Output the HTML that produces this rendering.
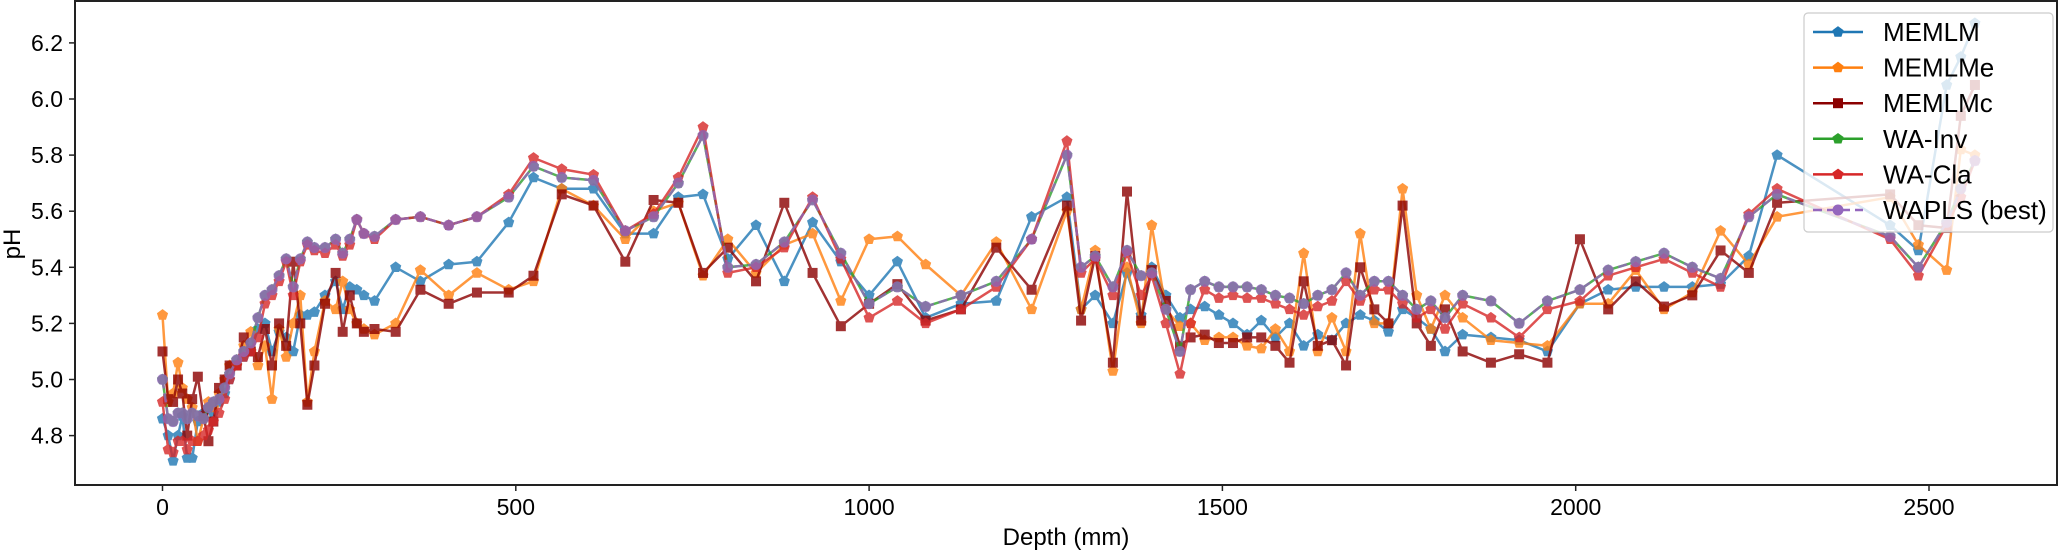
<!DOCTYPE html>
<html><head><meta charset="utf-8"><style>
html,body{margin:0;padding:0;background:#fff;}
svg{display:block;font-family:"Liberation Sans",sans-serif;}
</style></head><body>
<svg id="chart" width="2067" height="550" viewBox="0 0 2067 550" xmlns="http://www.w3.org/2000/svg">
<rect x="0" y="0" width="2067" height="550" fill="#fff"/>
<g id="series"></g>
<rect x="75" y="1" width="1982" height="484" fill="none" stroke="#222" stroke-width="2"/>
<g id="axes"></g>
<text x="1066" y="545" font-size="24" text-anchor="middle">Depth (mm)</text>
<text x="0" y="0" font-size="24" text-anchor="middle" transform="translate(20,244) rotate(-90)">pH</text>
<g id="legend"></g>
</svg>
<script>
const depths = [0,8,15,22,28,35,42,50,58,65,72,80,88,95,
105,115,125,135,145,155,165,175,185,195,205,215,230,245,255,265,275,285,300,
330,365,405,445,490,525,565,610,655,695,730,765,
800,840,880,920,960,1000,1040,1080,1130,1180,1230,1280,
1300,1320,1345,1365,1385,1400,1420,1440,1455,1475,1495,
1515,1535,1555,1575,1595,1615,1635,1655,1675,1695,1715,1735,1755,1775,1795,1815,1840,1880,1920,1960,
2006,2046,2085,2125,2165,2205,2245,2285,2445,2485,2525,2545,2565];
const memlm = [4.86,4.8,4.71,4.8,4.87,4.72,4.72,4.85,4.88,4.9,4.88,4.92,4.95,5.0,
5.05,5.08,5.1,5.18,5.2,5.1,5.17,5.15,5.1,5.23,5.23,5.24,5.3,5.35,5.25,5.33,5.32,5.3,5.28,
5.4,5.35,5.41,5.42,5.56,5.72,5.68,5.68,5.52,5.52,5.65,5.66,
5.43,5.55,5.35,5.56,5.42,5.3,5.42,5.22,5.27,5.28,5.58,5.65,
5.25,5.3,5.2,5.38,5.23,5.4,5.3,5.22,5.25,5.26,5.23,
5.2,5.16,5.21,5.15,5.2,5.12,5.16,5.14,5.2,5.23,5.21,5.17,5.25,5.22,5.18,5.1,5.16,5.15,5.14,5.1,
5.27,5.32,5.33,5.33,5.33,5.34,5.44,5.80,5.55,5.46,6.05,6.15,6.27];
const memlme = [5.23,4.92,4.95,5.06,4.97,4.93,4.9,4.78,4.86,4.92,4.9,4.95,5.0,5.05,
5.05,5.12,5.17,5.05,5.12,4.93,5.18,5.08,5.2,5.3,4.92,5.1,5.28,5.25,5.35,5.25,5.2,5.18,5.16,
5.2,5.39,5.3,5.38,5.32,5.35,5.68,5.62,5.5,5.6,5.63,5.37,
5.5,5.38,5.48,5.52,5.28,5.5,5.51,5.41,5.3,5.49,5.25,5.6,
5.25,5.46,5.03,5.4,5.2,5.55,5.25,5.19,5.2,5.14,5.15,
5.15,5.12,5.11,5.18,5.1,5.45,5.1,5.22,5.1,5.52,5.2,5.2,5.68,5.3,5.18,5.3,5.22,5.14,5.13,5.12,
5.27,5.27,5.39,5.25,5.31,5.53,5.41,5.58,5.65,5.48,5.39,5.82,5.8];
const memlmc = [5.1,4.93,4.92,5.0,4.95,4.8,4.93,5.01,4.87,4.78,4.85,4.97,5.0,5.05,
5.05,5.15,5.1,5.08,5.18,5.05,5.2,5.12,5.42,5.2,4.91,5.05,5.27,5.38,5.17,5.3,5.2,5.17,5.18,
5.17,5.32,5.27,5.31,5.31,5.37,5.66,5.62,5.42,5.64,5.63,5.38,
5.47,5.35,5.63,5.38,5.19,5.27,5.34,5.21,5.25,5.47,5.32,5.62,
5.21,5.44,5.06,5.67,5.21,5.39,5.28,5.12,5.15,5.16,5.13,
5.13,5.15,5.15,5.12,5.06,5.35,5.12,5.14,5.05,5.4,5.25,5.2,5.62,5.2,5.12,5.25,5.1,5.06,5.09,5.06,
5.5,5.25,5.35,5.26,5.3,5.46,5.38,5.63,5.66,5.55,5.54,5.94,6.05];
const waInv = [5.0,4.86,4.85,4.88,4.88,4.86,4.88,4.87,4.86,4.9,4.92,4.93,4.97,5.02,
5.07,5.1,5.13,5.22,5.3,5.32,5.37,5.43,5.33,5.43,5.49,5.47,5.47,5.5,5.45,5.5,5.57,5.52,5.51,
5.57,5.58,5.55,5.58,5.65,5.76,5.72,5.71,5.53,5.58,5.7,5.87,
5.4,5.41,5.49,5.64,5.45,5.27,5.33,5.26,5.3,5.35,5.5,5.8,
5.4,5.44,5.33,5.46,5.37,5.38,5.25,5.1,5.32,5.35,5.33,
5.33,5.33,5.32,5.3,5.29,5.27,5.3,5.32,5.38,5.3,5.35,5.35,5.3,5.25,5.28,5.22,5.3,5.28,5.2,5.28,
5.32,5.39,5.42,5.45,5.40,5.36,5.58,5.66,5.51,5.40,5.56,5.68,5.78];
const waCla = [4.92,4.75,4.74,4.78,4.78,4.75,4.78,4.78,4.8,4.82,4.85,4.88,4.93,5.0,
5.05,5.08,5.1,5.15,5.27,5.3,5.35,5.42,5.3,5.42,5.48,5.46,5.45,5.48,5.44,5.48,5.57,5.52,5.5,
5.57,5.58,5.55,5.58,5.66,5.79,5.75,5.73,5.53,5.59,5.72,5.9,
5.38,5.4,5.47,5.65,5.43,5.22,5.28,5.2,5.25,5.33,5.5,5.85,
5.38,5.43,5.3,5.45,5.3,5.37,5.2,5.02,5.2,5.32,5.29,
5.3,5.29,5.29,5.27,5.25,5.23,5.26,5.28,5.35,5.28,5.32,5.32,5.27,5.22,5.25,5.18,5.27,5.22,5.15,5.25,
5.28,5.37,5.40,5.43,5.38,5.33,5.59,5.68,5.50,5.37,5.55,5.65,5.78];
const waplsBest = waInv.slice();
const xTicks = [0,500,1000,1500,2000,2500];
const yTicks = [4.8,5.0,5.2,5.4,5.6,5.8,6.0,6.2];
const seriesNames = ["MEMLM","MEMLMe","MEMLMc","WA-Inv","WA-Cla","WAPLS (best)"];

const NS = "http://www.w3.org/2000/svg";
function xScale(d){ return 162.5 + d * 0.7066; }
function yScale(p){ return 379.5 - (p - 5.0) * 280.5; }

const styles = [
 {c:"#1f77b4", m:"pent", dash:null},
 {c:"#ff7f0e", m:"pent", dash:null},
 {c:"#8b0000", m:"square", dash:null},
 {c:"#2ca02c", m:"pent", dash:null},
 {c:"#d62728", m:"pent", dash:null},
 {c:"#9467bd", m:"circle", dash:"9,5"}
];
const allData = [memlm, memlme, memlmc, waInv, waCla, waplsBest];

function markerShape(type, x, y, r, color){
  let el;
  if(type==="circle"){
    el=document.createElementNS(NS,"circle");
    el.setAttribute("cx",x);el.setAttribute("cy",y);el.setAttribute("r",r);
  } else if(type==="square"){
    el=document.createElementNS(NS,"rect");
    el.setAttribute("x",x-r);el.setAttribute("y",y-r);el.setAttribute("width",2*r);el.setAttribute("height",2*r);
  } else {
    const pts=[];
    for(let i=0;i<5;i++){
      const a=-Math.PI/2+i*2*Math.PI/5;
      const rr = r*1.05;
      pts.push((x+rr*Math.cos(a)).toFixed(1)+","+(y+rr*Math.sin(a)).toFixed(1));
    }
    el=document.createElementNS(NS,"polygon");
    el.setAttribute("points",pts.join(" "));
  }
  el.setAttribute("fill",color);
  el.setAttribute("stroke",color);
  el.setAttribute("stroke-width","1");
  return el;
}

const sg=document.getElementById("series");
allData.forEach((vals,si)=>{
  const st=styles[si];
  const g=document.createElementNS(NS,"g");
  
  
  g.setAttribute("opacity","0.8");
  const pts=vals.map((v,i)=>xScale(depths[i]).toFixed(1)+","+yScale(v).toFixed(1)).join(" ");
  const pl=document.createElementNS(NS,"polyline");
  
  
  pl.setAttribute("points",pts);
  pl.setAttribute("fill","none");
  pl.setAttribute("stroke",st.c);
  pl.setAttribute("stroke-width","2.5");
  pl.setAttribute("stroke-linejoin","round");
  if(st.dash) pl.setAttribute("stroke-dasharray",st.dash);
  g.appendChild(pl);
  vals.forEach((v,i)=>{
    const m=markerShape(st.m,xScale(depths[i]),yScale(v),st.m==="square"?4.5:5,st.c);
    
    
    g.appendChild(m);
  });
  sg.appendChild(g);
});

const ax=document.getElementById("axes");
xTicks.forEach(t=>{
  const x=xScale(t);
  const l=document.createElementNS(NS,"line");
  
  
  l.setAttribute("x1",x);l.setAttribute("x2",x);l.setAttribute("y1",485);l.setAttribute("y2",491);
  l.setAttribute("stroke","#222");l.setAttribute("stroke-width","1.5");
  ax.appendChild(l);
  const tx=document.createElementNS(NS,"text");
  
  
  tx.setAttribute("x",x);tx.setAttribute("y",515);tx.setAttribute("font-size","23");tx.setAttribute("text-anchor","middle");
  tx.textContent=t;
  ax.appendChild(tx);
});
yTicks.forEach(t=>{
  const y=yScale(t);
  const l=document.createElementNS(NS,"line");
  
  
  l.setAttribute("x1",69);l.setAttribute("x2",75);l.setAttribute("y1",y);l.setAttribute("y2",y);
  l.setAttribute("stroke","#222");l.setAttribute("stroke-width","1.5");
  ax.appendChild(l);
  const tx=document.createElementNS(NS,"text");
  
  
  tx.setAttribute("x",63);tx.setAttribute("y",y+8);tx.setAttribute("font-size","23");tx.setAttribute("text-anchor","end");
  tx.textContent=t.toFixed(1);
  ax.appendChild(tx);
});

const lg=document.getElementById("legend");
const box=document.createElementNS(NS,"rect");


box.setAttribute("x",1804);box.setAttribute("y",13);box.setAttribute("width",249);box.setAttribute("height",219);
box.setAttribute("rx",4);box.setAttribute("fill","#fff");box.setAttribute("fill-opacity","0.8");
box.setAttribute("stroke","#ccc");box.setAttribute("stroke-width","1.2");
lg.appendChild(box);
seriesNames.forEach((n,i)=>{
  const st=styles[i];
  const y=32+i*35.6;
  const g=document.createElementNS(NS,"g");
  
  
  const l=document.createElementNS(NS,"line");
  l.setAttribute("x1",1813);l.setAttribute("x2",1863);l.setAttribute("y1",y);l.setAttribute("y2",y);
  l.setAttribute("stroke",st.c);l.setAttribute("stroke-width","2.5");
  if(st.dash) l.setAttribute("stroke-dasharray",st.dash);
  g.appendChild(l);
  g.appendChild(markerShape(st.m,1838,y,st.m==="square"?4.5:5,st.c));
  const tx=document.createElementNS(NS,"text");
  tx.setAttribute("x",1883);tx.setAttribute("y",y+9);tx.setAttribute("font-size","26");
  tx.textContent=n;
  g.appendChild(tx);
  lg.appendChild(g);
});
</script>
</body></html>
